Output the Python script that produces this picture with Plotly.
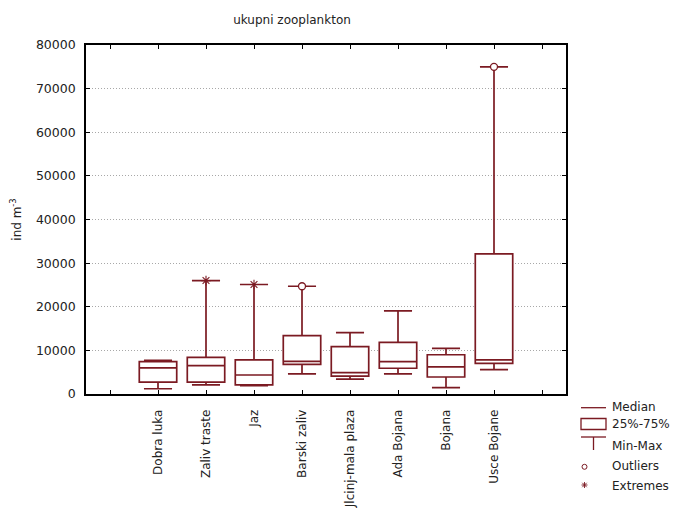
import plotly.graph_objects as go

# ---- data ----
sites = ["Dobra luka", "Zaliv traste", "Jaz", "Barski zaliv",
         "Jlcinj-mala plaza", "Ada Bojana", "Bojana", "Usce Bojane"]
positions = [1, 2, 3, 4, 5, 6, 7, 8]
q1 = [2700, 2700, 2100, 6800, 4100, 5900, 3900, 7000]
median = [6000, 6500, 4350, 7500, 4900, 7400, 6200, 7800]
q3 = [7400, 8400, 7800, 13400, 10850, 11850, 9000, 32100]
minimum = [1200, 2100, 1900, 4600, 3400, 4600, 1450, 5600]
maximum = [7700, 26000, 25100, 24700, 14050, 19050, 10450, 75000]

outlier_x = [4, 8]
outlier_y = [24700, 75000]
extreme_x = [2, 3]
extreme_y = [26000, 25100]

edge_ticks = [0, 9]
y_ticks = [0, 10000, 20000, 30000, 40000, 50000, 60000, 70000, 80000]
y_tick_text = [str(v) for v in y_ticks]

legend_labels = ["Median", "25%-75%", "Min-Max", "Outliers", "Extremes"]

# ---- style ----
RED = "#7b1a22"
FONT = "DejaVu Sans"
TXT = "#222222"

fig = go.Figure()
fig.add_trace(go.Box(
    x=positions, q1=q1, median=median, q3=q3,
    lowerfence=minimum, upperfence=maximum,
    width=0.78, whiskerwidth=0.75,
    boxpoints=False,
    fillcolor="white",
    line=dict(color=RED, width=1.7),
    showlegend=False,
))
fig.add_trace(go.Scatter(
    x=outlier_x, y=outlier_y, mode="markers",
    marker=dict(symbol="circle", size=7, color="white",
                line=dict(color=RED, width=1.3)),
    showlegend=False,
))
fig.add_trace(go.Scatter(
    x=extreme_x, y=extreme_y, mode="markers",
    marker=dict(symbol="asterisk-open", size=8, color=RED,
                line=dict(color=RED, width=1.1)),
    showlegend=False,
))

# ---- layout geometry (page body has an 8px margin) ----
OFF = 8
W, H = 678 - OFF, 510 - OFF
L, T = 86 - OFF, 45 - OFF
PW, PH = 480, 349
R, B = W - L - PW, H - T - PH


def px(x):
    return (x - OFF - L) / PW


def py(y):
    return (T + PH - (y - OFF)) / PH


shapes = []
annotations = []
# legend: median line
shapes.append(dict(type="line", xref="paper", yref="paper",
                   x0=px(581), x1=px(606), y0=py(407.7), y1=py(407.7),
                   line=dict(color=RED, width=1.3)))
# legend: box
shapes.append(dict(type="rect", xref="paper", yref="paper",
                   x0=px(581), x1=px(606), y0=py(418.5), y1=py(429.5),
                   line=dict(color=RED, width=1.3), fillcolor="white"))
# legend: min-max
shapes.append(dict(type="line", xref="paper", yref="paper",
                   x0=px(581), x1=px(606), y0=py(437), y1=py(437),
                   line=dict(color=RED, width=1.3)))
shapes.append(dict(type="line", xref="paper", yref="paper",
                   x0=px(593.5), x1=px(593.5), y0=py(437), y1=py(450),
                   line=dict(color=RED, width=1.3)))
# legend: outlier circle
shapes.append(dict(type="circle", xref="paper", yref="paper",
                   x0=px(582), x1=px(587), y0=py(464.3), y1=py(469.3),
                   line=dict(color=RED, width=1)))
# legend: extreme asterisk
cx, cy = 584.5, 485
for dx0, dy0, dx1, dy1 in [(-3, 0, 3, 0), (0, -3, 0, 3), (-2.2, -2.2, 2.2, 2.2), (-2.2, 2.2, 2.2, -2.2)]:
    shapes.append(dict(type="line", xref="paper", yref="paper",
                       x0=px(cx + dx0), x1=px(cx + dx1),
                       y0=py(cy + dy0), y1=py(cy + dy1),
                       line=dict(color=RED, width=0.9)))

for lab, yy in zip(legend_labels, [407, 424, 446, 466, 486]):
    annotations.append(dict(text=lab, xref="paper", yref="paper",
                            x=px(611), y=py(yy), xanchor="left", yanchor="middle",
                            showarrow=False, borderpad=0,
                            font=dict(family=FONT, size=12, color=TXT)))

fig.update_layout(
    width=W, height=H,
    margin=dict(l=L, r=R, t=T, b=B, pad=0, autoexpand=False),
    paper_bgcolor="white", plot_bgcolor="white",
    title=dict(text="ukupni zooplankton", x=(292 - OFF) / W, xanchor="center",
               y=1 - (20 - OFF) / H, yanchor="middle", xref="container", yref="container",
               font=dict(family=FONT, size=12, color=TXT)),
    font=dict(family=FONT, size=12, color=TXT),
    shapes=shapes, annotations=annotations,
    showlegend=False,
)
fig.update_xaxes(
    range=[-0.5, 9.5], tickmode="array", tickvals=positions, ticktext=sites,
    tickangle=-90, ticks="inside", ticklen=4, tickcolor="black", tickwidth=1,
    ticklabelstandoff=9,
    minor=dict(tickmode="array", tickvals=edge_ticks, ticks="inside", ticklen=4,
               tickcolor="black", tickwidth=1, showgrid=False),
    showline=True, linecolor="black", linewidth=1.6, mirror="ticks",
    showgrid=False, zeroline=False, automargin=False,
    tickfont=dict(family=FONT, size=12, color=TXT),
)
fig.update_yaxes(
    range=[0, 80000], tickmode="array", tickvals=y_ticks, ticktext=y_tick_text,
    ticks="inside", ticklen=4, tickcolor="black", tickwidth=1,
    ticklabelstandoff=6,
    showline=True, linecolor="black", linewidth=1.6, mirror="ticks",
    showgrid=True, gridcolor="#a8a8a8", griddash="1px,2px", gridwidth=1,
    zeroline=False, automargin=False,
    tickfont=dict(family=FONT, size=12.5, color=TXT),
    title=dict(text="ind m<sup>-3</sup>", standoff=15,
               font=dict(family=FONT, size=12, color=TXT)),
)

fig.write_html("out.html")
